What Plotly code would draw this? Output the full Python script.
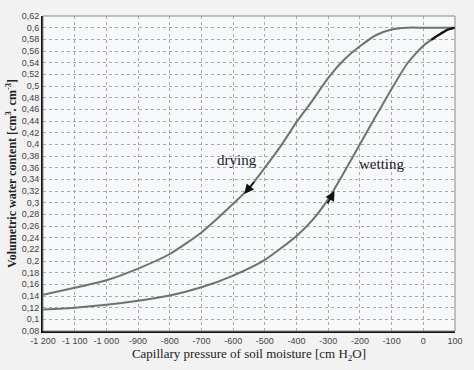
import plotly.graph_objects as go

# Capillary pressure [cm H2O]
drying_x = [-1200, -1100, -1000, -900, -800, -700, -600, -550, -500, -450, -400,
            -350, -300, -250, -200, -150, -100, -50, 0, 50, 100]
drying_y = [0.142, 0.154, 0.167, 0.187, 0.212, 0.249, 0.298, 0.325, 0.360, 0.397, 0.438,
            0.475, 0.514, 0.545, 0.568, 0.587, 0.597, 0.600, 0.600, 0.600, 0.600]

wetting_x = [-1200, -1100, -1000, -900, -800, -700, -600, -500, -400, -350, -300,
             -250, -200, -150, -100, -50, 0, 25, 50, 75, 100]
wetting_y = [0.117, 0.120, 0.125, 0.132, 0.141, 0.155, 0.175, 0.202, 0.243, 0.270, 0.306,
             0.352, 0.400, 0.448, 0.495, 0.539, 0.569, 0.579, 0.588, 0.596, 0.600]

x_tickvals = [-1200, -1100, -1000, -900, -800, -700, -600, -500, -400, -300, -200, -100, 0, 100]
x_ticktext = ["-1\u00a0200", "-1\u00a0100", "-1\u00a0000", "-900", "-800", "-700", "-600",
              "-500", "-400", "-300", "-200", "-100", "0", "100"]
y_tickvals = [round(0.08 + 0.02 * i, 2) for i in range(28)]
y_ticktext = [("%g" % v).replace(".", ",") for v in y_tickvals]

curve_color = "#68766f"
serif = "Liberation Serif, Times New Roman, serif"
sans = "Liberation Sans, Arial, sans-serif"

fig = go.Figure()
fig.add_trace(go.Scatter(x=drying_x, y=drying_y, mode="lines",
                         line=dict(color=curve_color, width=2, shape="spline", smoothing=0.6),
                         showlegend=False, name="drying"))
fig.add_trace(go.Scatter(x=wetting_x, y=wetting_y, mode="lines",
                         line=dict(color=curve_color, width=2, shape="spline", smoothing=0.6),
                         showlegend=False, name="wetting"))
# darker end segment of wetting curve
fig.add_trace(go.Scatter(x=wetting_x[-4:], y=wetting_y[-4:], mode="lines",
                         line=dict(color="#111111", width=2.2, shape="spline", smoothing=0.6),
                         showlegend=False, hoverinfo="skip"))

# direction arrows
fig.add_annotation(x=-565, y=0.315, ax=-530, ay=0.338, xref="x", yref="y", axref="x", ayref="y",
                   showarrow=True, arrowhead=2, arrowsize=1.2, arrowwidth=1.6, arrowcolor="#111111",
                   text="")
fig.add_annotation(x=-280, y=0.320, ax=-305, ay=0.296, xref="x", yref="y", axref="x", ayref="y",
                   showarrow=True, arrowhead=2, arrowsize=1.2, arrowwidth=1.6, arrowcolor="#111111",
                   text="")
fig.add_annotation(x=-588, y=0.373, xref="x", yref="y", text="drying", showarrow=False,
                   font=dict(family=serif, size=15, color="#1a1a2a"))
fig.add_annotation(x=-132, y=0.367, xref="x", yref="y", text="wetting", showarrow=False,
                   font=dict(family=serif, size=15, color="#1a1a2a"))

# top/right thin frame
fig.add_shape(type="rect", xref="paper", yref="paper", x0=0, y0=0, x1=1, y1=1,
              line=dict(color="#8a8a8a", width=1), layer="above")

fig.update_layout(
    width=474, height=370,
    margin=dict(l=36, r=11, t=13, b=38),
    paper_bgcolor="#f2f2f2",
    plot_bgcolor="#f7f8f9",
    xaxis=dict(range=[-1200, 100], tickvals=x_tickvals, ticktext=x_ticktext,
               showgrid=True, gridcolor="#a8a8a8", griddash="dot", gridwidth=1,
               showline=True, linecolor="#111111", linewidth=2, zeroline=False,
               ticks="", tickfont=dict(family=sans, size=9, color="#444444"),
               title=dict(text="Capillary pressure of soil moisture [cm H<sub>2</sub>O]",
                          font=dict(family=serif, size=13, color="#222222"), standoff=4)),
    yaxis=dict(range=[0.08, 0.62], tickvals=y_tickvals, ticktext=y_ticktext,
               showgrid=True, gridcolor="#a8a8a8", griddash="dot", gridwidth=1,
               showline=True, linecolor="#111111", linewidth=2, zeroline=False,
               ticks="", tickfont=dict(family=sans, size=9, color="#444444"),
               title=dict(text="<b>Volumetric water content [cm<sup>3</sup>. cm<sup>-3</sup>]</b>",
                          font=dict(family=serif, size=12, color="#222222"), standoff=2)),
)

fig.write_html("out.html", config={"displayModeBar": False},
               post_script="document.body.style.margin='0';document.body.style.background='#f2f2f2';")
